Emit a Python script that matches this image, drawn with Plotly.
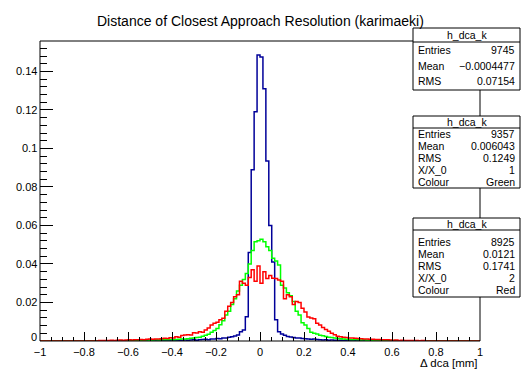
import plotly.graph_objects as go

# ---------------- data ----------------
X_MIN, X_MAX, N_BINS = -1.0, 1.0, 150

# bin contents (normalised); each list starts at bin offset *_start relative to x=0
blue_start = -40
blue_vals = [0.0002, 0.0001, 0.0002, 0.0003, 0.0002,
             0.0003, 0.0002, 0.0004, 0.0003, 0.0003, 0.0004, 0.0002, 0.0004, 0.0003, 0.0005,
             0.0004, 0.0005, 0.0006, 0.0004, 0.0007,
             0.0008, 0.0009, 0.0007, 0.0011, 0.0010, 0.0013, 0.0012, 0.0016, 0.0015, 0.0020,
             0.0022, 0.0026, 0.0031, 0.0048, 0.0057, 0.0126, 0.046, 0.089, 0.119, 0.1485,
             0.1475, 0.131, 0.0935, 0.060, 0.041, 0.011, 0.0048, 0.0036, 0.0030, 0.0023,
             0.0021, 0.0018, 0.0016, 0.0015, 0.0013, 0.0012, 0.0011, 0.0009, 0.0010, 0.0008,
             0.0007, 0.0005, 0.0006, 0.0004, 0.0005, 0.0004, 0.0003, 0.0004, 0.0002, 0.0003,
             0.0003, 0.0002, 0.0003, 0.0002, 0.0001, 0.0002, 0.0002, 0.0001, 0.0002]

green_start = -45
green_vals = [0.0002, 0.0003, 0.0002, 0.0003, 0.0004,
              0.0004, 0.0005, 0.0004, 0.0005, 0.0006, 0.0005, 0.0006, 0.0007, 0.0006, 0.0008,
              0.0007, 0.0008, 0.0009, 0.0010, 0.0011, 0.0012, 0.0014, 0.0016, 0.0018, 0.0020,
              0.0025, 0.0030, 0.0035, 0.0045, 0.0055, 0.0065, 0.0085, 0.0105, 0.0135, 0.0155,
              0.019, 0.022, 0.026, 0.029, 0.032, 0.035, 0.040, 0.047, 0.0515, 0.052,
              0.0528, 0.0515, 0.049, 0.047, 0.043, 0.0415, 0.0395, 0.029, 0.0275, 0.025,
              0.0235, 0.0205, 0.0155, 0.0135, 0.0095, 0.0083, 0.0065, 0.0045, 0.0040, 0.0036,
              0.0030, 0.0027, 0.0024, 0.0020, 0.0018, 0.0015, 0.0013, 0.0012, 0.0010, 0.0009,
              0.0008, 0.0007, 0.0008, 0.0006, 0.0005, 0.0006, 0.0004, 0.0005, 0.0004, 0.0003,
              0.0003, 0.0004, 0.0002, 0.0003, 0.0002, 0.0002]

red_start = -55
red_vals = [0.0002, 0.0003, 0.0002, 0.0003, 0.0004, 0.0003, 0.0004, 0.0005, 0.0004, 0.0005,
            0.0006, 0.0005, 0.0007, 0.0006, 0.0008, 0.0007, 0.0009, 0.0010, 0.0009, 0.0011,
            0.0010, 0.0012, 0.0014, 0.0013, 0.0017, 0.0016, 0.0022, 0.0020, 0.0028, 0.0031,
            0.0033, 0.0031, 0.0043, 0.0041, 0.0048, 0.0046, 0.0057, 0.0068, 0.0083, 0.0092,
            0.0097, 0.011, 0.0118, 0.0155, 0.018, 0.020, 0.023, 0.024, 0.031, 0.030,
            0.029, 0.033, 0.037, 0.031, 0.039,
            0.030, 0.036, 0.0325, 0.034, 0.0326, 0.0325, 0.0317, 0.031, 0.022, 0.024,
            0.023, 0.019, 0.0205, 0.020, 0.017, 0.015, 0.0125, 0.012, 0.0115, 0.0092,
            0.0083, 0.007, 0.006, 0.005, 0.004, 0.0032, 0.0025, 0.0022, 0.0020, 0.0018,
            0.0016, 0.0015, 0.0014, 0.0013, 0.0012, 0.0011, 0.0010, 0.0009, 0.0009, 0.0008,
            0.0008, 0.0007, 0.0006, 0.0006, 0.0005, 0.0004, 0.0005, 0.0003, 0.0004, 0.0003,
            0.0003, 0.0002, 0.0003, 0.0002, 0.0001, 0.0002]

x_tick_vals = [-1, -0.8, -0.6, -0.4, -0.2, 0, 0.2, 0.4, 0.6, 0.8, 1]
x_tick_text = ["\u22121", "\u22120.8", "\u22120.6", "\u22120.4", "\u22120.2", "0",
               "0.2", "0.4", "0.6", "0.8", "1"]
y_tick_vals = [0, 0.02, 0.04, 0.06, 0.08, 0.1, 0.12, 0.14]
y_tick_text = ["0", "0.02", "0.04", "0.06", "0.08", "0.1", "0.12", "0.14"]

stats_boxes = [
    {"title": "h_dca_k", "rows": [("Entries", "9745"), ("Mean", "\u22120.0004477"), ("RMS", "0.07154")]},
    {"title": "h_dca_k", "rows": [("Entries", "9357"), ("Mean", "0.006043"), ("RMS", "0.1249"),
                                  ("X/X_0", "1"), ("Colour", "Green")]},
    {"title": "h_dca_k", "rows": [("Entries", "8925"), ("Mean", "0.0121"), ("RMS", "0.1741"),
                                  ("X/X_0", "2"), ("Colour", "Red")]},
]

TITLE = "Distance of Closest Approach Resolution (karimaeki)"
X_TITLE = "\u0394 dca [mm]"
Y_MAX = 0.1558

# ---------------- geometry ----------------
W, H = 521, 371
L, R, T, B = 40, 41, 41, 30
PW, PH = W - L - R, H - T - B
FONT = "Liberation Sans, Arial, Helvetica, sans-serif"


def px(xp):
    return (xp - L) / PW


def py(yp):
    return (H - B - yp) / PH


bw = (X_MAX - X_MIN) / N_BINS
edges = [X_MIN + i * bw for i in range(N_BINS + 1)]


def full(start, vals):
    arr = [0.0] * N_BINS
    for j, v in enumerate(vals):
        arr[start + N_BINS // 2 + j] = v
    return arr + [arr[-1]]


fig = go.Figure()
for vals, start, col in [(blue_vals, blue_start, "#000099"),
                         (green_vals, green_start, "#00ff00"),
                         (red_vals, red_start, "#ff0000")]:
    fig.add_trace(go.Scatter(x=edges, y=full(start, vals), mode="lines",
                             line=dict(shape="hv", color=col, width=1.5),
                             hoverinfo="skip", showlegend=False))

shapes = [dict(type="rect", xref="paper", yref="paper", x0=0, x1=1, y0=0, y1=1,
               line=dict(color="black", width=1), layer="above")]
annotations = []

box_geo = [  # top, bottom, header divider, first row y, row step
    (28, 90, 42, 50, 15.5),
    (116, 188, 128, 134, 12),
    (218, 297, 230, 242, 12),
]
BX0, BX1 = 413, 520
for box, (top, bot, div, r0, step) in zip(stats_boxes, box_geo):
    shapes.append(dict(type="rect", xref="paper", yref="paper", x0=px(BX0), x1=px(BX1),
                       y0=py(bot), y1=py(top), line=dict(color="black", width=1),
                       fillcolor="white", layer="above"))
    shapes.append(dict(type="line", xref="paper", yref="paper", x0=px(BX0), x1=px(BX1),
                       y0=py(div), y1=py(div), line=dict(color="black", width=1), layer="above"))
    annotations.append(dict(text=box["title"], x=px((BX0 + BX1) / 2), y=py((top + div) / 2),
                            xref="paper", yref="paper", showarrow=False,
                            xanchor="center", yanchor="middle",
                            font=dict(size=10.5, color="black", family=FONT)))
    for i, (lab, val) in enumerate(box["rows"]):
        yy = py(r0 + i * step)
        annotations.append(dict(text=lab, x=px(BX0 + 3), y=yy, xref="paper", yref="paper",
                                showarrow=False, xanchor="left", yanchor="middle",
                                font=dict(size=10.5, color="black", family=FONT)))
        annotations.append(dict(text=val, x=px(BX1 - 3), y=yy, xref="paper", yref="paper",
                                showarrow=False, xanchor="right", yanchor="middle",
                                font=dict(size=10.5, color="black", family=FONT)))

annotations.append(dict(text=X_TITLE, x=1, y=py(363), xref="paper", yref="paper",
                        showarrow=False, xanchor="right", yanchor="middle",
                        font=dict(size=11.5, color="black", family=FONT)))
annotations.append(dict(text=TITLE, x=px(260), y=py(21), xref="paper", yref="paper",
                        showarrow=False, xanchor="center", yanchor="middle",
                        font=dict(size=14, color="black", family=FONT)))

# y tick labels as annotations (lets the "0" sit just clear of the "−1" label)
for v, t in zip(y_tick_vals, y_tick_text):
    annotations.append(dict(text=t, x=px(37.5), y=v, xref="paper", yref="y",
                            showarrow=False, xanchor="right", yanchor="middle",
                            yshift=4 if v == 0 else 0, borderpad=0,
                            font=dict(size=11, color="black", family=FONT)))

fig.update_layout(
    width=W, height=H, autosize=False,
    margin=dict(l=L, r=R, t=T, b=B, pad=0),
    paper_bgcolor="white", plot_bgcolor="white",
    font=dict(family=FONT, color="black"),
    shapes=shapes, annotations=annotations,
    xaxis=dict(range=[X_MIN, X_MAX], tickmode="array", tickvals=x_tick_vals, ticktext=x_tick_text,
               ticks="inside", ticklen=9, tickcolor="black", tickwidth=1,
               ticklabelstandoff=3,
               minor=dict(tickmode="linear", tick0=-1, dtick=0.05, ticks="inside", ticklen=4.5,
                          tickcolor="black", tickwidth=1, showgrid=False),
               showgrid=False, zeroline=False, showline=False,
               tickfont=dict(size=11, family=FONT, color="black")),
    yaxis=dict(range=[0, Y_MAX], tickmode="array", tickvals=y_tick_vals, showticklabels=False,
               ticks="inside", ticklen=13, tickcolor="black", tickwidth=1,
               minor=dict(tickmode="linear", tick0=0, dtick=0.004, ticks="inside", ticklen=6.5,
                          tickcolor="black", tickwidth=1, showgrid=False),
               showgrid=False, zeroline=False, showline=False),
)

fig.write_html("out.html")
